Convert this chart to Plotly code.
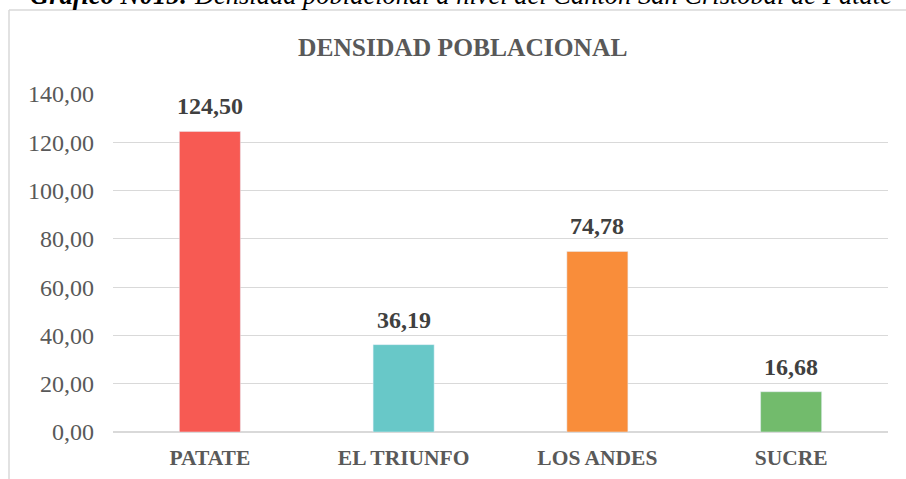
import plotly.graph_objects as go

categories = ["PATATE", "EL TRIUNFO", "LOS ANDES", "SUCRE"]
values = [124.50, 36.19, 74.78, 16.68]
value_labels = ["124,50", "36,19", "74,78", "16,68"]
bar_colors = ["#F75A53", "#68C8C8", "#F98D3A", "#72BB6C"]
tick_vals = [0, 20, 40, 60, 80, 100, 120, 140]
tick_text = ["0,00", "20,00", "40,00", "60,00", "80,00", "100,00", "120,00", "140,00"]
chart_title = "DENSIDAD POBLACIONAL"
caption_bold = "Gráfico N015:"
caption_rest = " Densidad poblacional a nivel del Cantón San Cristóbal de Patate"

W, H = 906, 479
ML, MR, MT, MB = 113, 18, 94, 47
PH = H - MT - MB
PW = W - ML - MR

def py(p):  # pixel y -> paper y
    return (H - MB - p) / PH

def px(p):  # pixel x -> paper x
    return (p - ML) / PW

serif = "Liberation Serif, Times New Roman, serif"

fig = go.Figure(go.Bar(
    x=categories, y=values, marker_color=bar_colors, width=0.315,
    hoverinfo="skip",
))

annotations = []
for c, v, t in zip(categories, values, value_labels):
    annotations.append(dict(x=c, y=v, xref="x", yref="y", text="<b>%s</b>" % t,
                            showarrow=False, yanchor="middle", yshift=25,
                            font=dict(family=serif, size=24, color="#404040")))
annotations.append(dict(x=px(462), y=py(47), xref="paper", yref="paper",
                        text="<b>%s</b>" % chart_title, showarrow=False,
                        xanchor="center", yanchor="middle",
                        font=dict(family=serif, size=25.5, color="#595959")))
annotations.append(dict(x=px(28), y=py(-5), xref="paper", yref="paper",
                        text="<b><i>%s</i></b><i>%s</i>" % (caption_bold, caption_rest),
                        showarrow=False, xanchor="left", yanchor="middle",
                        font=dict(family=serif, size=26.5, color="#000000")))

shapes = [
    dict(type="line", xref="paper", yref="paper", x0=px(9), x1=px(906), y0=py(10), y1=py(10),
         line=dict(color="#D9D9D9", width=1.5)),
    dict(type="line", xref="paper", yref="paper", x0=px(9), x1=px(9), y0=py(10), y1=py(479),
         line=dict(color="#D9D9D9", width=1.5)),
]

fig.update_layout(
    width=W, height=H,
    margin=dict(l=ML, r=MR, t=MT, b=MB, pad=0, autoexpand=False),
    paper_bgcolor="white", plot_bgcolor="white",
    showlegend=False,
    annotations=annotations, shapes=shapes,
    xaxis=dict(showgrid=False, showline=False, zeroline=False, ticks="", automargin=False,
               tickfont=dict(family=serif, size=21.5, color="#595959"),
               tickvals=categories, ticktext=["<b>%s</b>" % c for c in categories],
               ticklabelstandoff=10),
    yaxis=dict(range=[0, 140], tickvals=tick_vals, ticktext=tick_text, automargin=False,
               showgrid=True, gridcolor="#D9D9D9", gridwidth=1.3,
               zeroline=True, zerolinecolor="#D9D9D9", zerolinewidth=1.6,
               showline=False, ticks="",
               tickfont=dict(family=serif, size=24, color="#595959"),
               ticklabelstandoff=18),
    bargap=0.685,
)

fig.write_html("out.html", config={"displayModeBar": False},
               post_script="document.body.style.margin='0';document.body.style.overflow='hidden';")
